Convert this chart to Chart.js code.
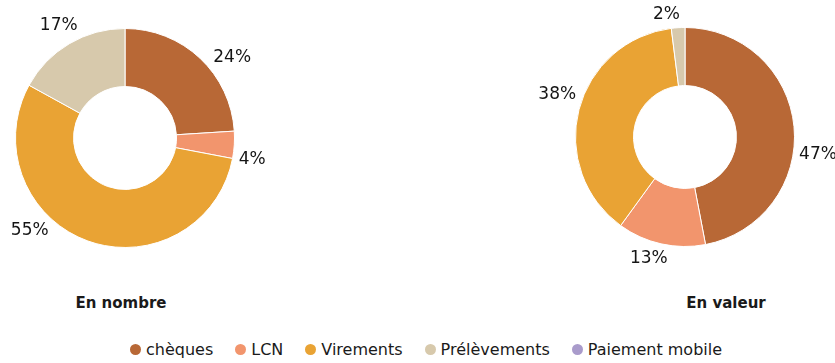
<!DOCTYPE html>
<html>
<head>
<meta charset="utf-8">
<script src="https://cdn.jsdelivr.net/npm/chart.js@4/dist/chart.umd.min.js"></script>
<style>
    body { margin: 0; background: #fff; font-family: "DejaVu Sans", sans-serif; color: #1a1a1a; }
    #wrap { position: relative; width: 835px; height: 363px; overflow: hidden; }
    .box { position: absolute; width: 310px; height: 300px; }
    .title { position: absolute; top: 294px; font-weight: bold; font-size: 15px; transform: translateX(-50%); white-space: nowrap; }
    #legend { position: absolute; top: 340px; left: 0; width: 852px; text-align: center; font-size: 16px; white-space: nowrap; }
    #legend span.item { margin: 0 11px; }
    #legend span.dot { display: inline-block; width: 11px; height: 11px; border-radius: 50%; margin-right: 5px; vertical-align: 0px; }
</style>
</head>
<body>
<div id="wrap">
    <div class="box" style="left:-30px; top:-12px;"><canvas id="nombre"></canvas></div>
    <div class="box" style="left:530px; top:-13px;"><canvas id="valeur"></canvas></div>
    <div class="title" style="left:121px;">En nombre</div>
    <div class="title" style="left:726px;">En valeur</div>
    <div id="legend"></div>
</div>
<script>
// categories and values (percent)
const categories = ["chèques", "LCN", "Virements", "Prélèvements", "Paiement mobile"];
const colors = ["#B86836", "#F2956D", "#E9A334", "#D7C9AC", "#A99BCB"];
const enNombre = [24, 4, 55, 17, 0];
const enValeur = [47, 13, 38, 2, 0];

// draws the percent labels just outside each slice
const outsideLabels = {
    id: 'outsideLabels',
    afterDatasetsDraw(chart, args, opts) {
        const ctx = chart.ctx;
        const meta = chart.getDatasetMeta(0);
        const values = chart.data.datasets[0].data;
        const nudge = opts.nudge || [];
        ctx.save();
        ctx.font = '17px "DejaVu Sans"';
        ctx.fillStyle = '#151515';
        ctx.textAlign = 'center';
        ctx.textBaseline = 'middle';
        meta.data.forEach((arc, i) => {
            if (!values[i]) return;
            const mid = (arc.startAngle + arc.endAngle) / 2 + (nudge[i] || 0) * Math.PI / 180;
            const text = values[i] + '%';
            const w = ctx.measureText(text).width;
            const h = 14;
            const cx = Math.cos(mid), cy = Math.sin(mid);
            const dist = arc.outerRadius + 5 + Math.abs(cx) * w / 2 + Math.abs(cy) * h / 2;
            ctx.fillText(text, arc.x + cx * dist, arc.y + cy * dist);
        });
        ctx.restore();
    }
};

function makeDoughnut(id, values, nudge) {
    const ctx = document.getElementById(id).getContext('2d');
    new Chart(ctx, {
        type: 'doughnut',
        data: {
            labels: categories,
            datasets: [{
                data: values,
                backgroundColor: colors,
                borderColor: '#ffffff',
                borderWidth: 1
            }]
        },
        options: {
            responsive: true,
            maintainAspectRatio: false,
            animation: false,
            cutout: '47%',
            layout: { padding: { left: 45, right: 45, top: 40, bottom: 40 } },
            plugins: {
                legend: { display: false },
                tooltip: { enabled: false },
                outsideLabels: { nudge: nudge }
            }
        },
        plugins: [outsideLabels]
    });
}

makeDoughnut('nombre', enNombre, [10, 6, 26, 0]);
makeDoughnut('valeur', enValeur, [13, 4, 4, -5]);

document.getElementById('legend').innerHTML = categories.map((c, i) =>
    `<span class="item"><span class="dot" style="background:${colors[i]}"></span>${c}</span>`
).join('');
</script>
</body>
</html>
